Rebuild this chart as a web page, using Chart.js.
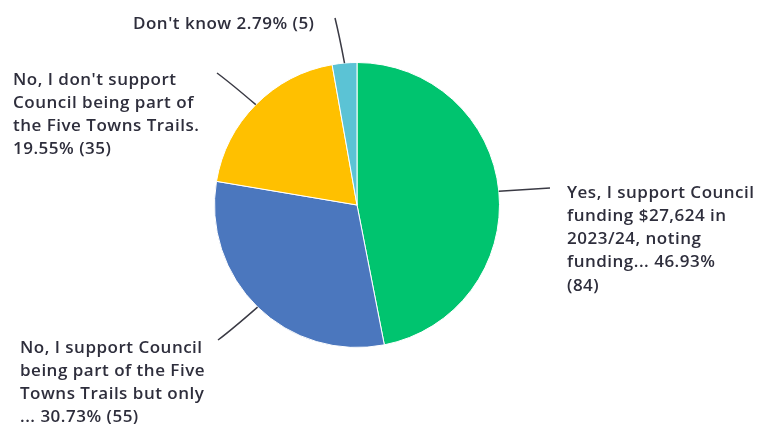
<!DOCTYPE html>
<html>
<head>
<meta charset="utf-8">
<script src="https://cdn.jsdelivr.net/npm/chart.js@4"></script>
<style>
  html, body { margin: 0; padding: 0; background: #fff; }
  #wrap { width: 757px; height: 424px; position: relative; }
</style>
</head>
<body>
<div id="wrap"><canvas id="pieChart"></canvas></div>
<script>
// survey answers, clockwise from 12 o'clock
var labels = [
  'Yes, I support Council funding $27,624 in 2023/24, noting funding...',
  'No, I support Council being part of the Five Towns Trails but only ...',
  'No, I don\'t support Council being part of the Five Towns Trails.',
  'Don\'t know'
];
var counts = [84, 55, 35, 5];
var percents = ['46.93%', '30.73%', '19.55%', '2.79%'];
var colours = ['#00C46F', '#4B77BE', '#FFC000', '#5BC3D5'];

// how each callout is wrapped on the page
var calloutLines = [
  ['Yes, I support Council', 'funding $27,624 in', '2023/24, noting', 'funding... 46.93%', '(84)'],
  ['No, I support Council', 'being part of the Five', 'Towns Trails but only', '... 30.73% (55)'],
  ['No, I don\'t support', 'Council being part of', 'the Five Towns Trails.', '19.55% (35)'],
  ['Don\'t know 2.79% (5)']
];
// leader end point, text left x, first line y, bend amount
var calloutPos = [
  { ex: 550, ey: 188, tx: 567, ty: 193, bend: 0 },
  { ex: 218, ey: 340, tx: 20, ty: 348, bend: 8 },
  { ex: 217, ey: 73, tx: 13, ty: 80, bend: 8 },
  { ex: 335, ey: 18, tx: 133, ty: 24, bend: 5 }
];

var callouts = {
  id: 'callouts',
  afterDatasetsDraw: function(chart) {
    var ctx = chart.ctx;
    var arcs = chart.getDatasetMeta(0).data;
    ctx.save();
    arcs.forEach(function(arc, i) {
      var p = calloutPos[i];
      var mid = (arc.startAngle + arc.endAngle) / 2;
      var sx = arc.x + Math.cos(mid) * arc.outerRadius;
      var sy = arc.y + Math.sin(mid) * arc.outerRadius;
      var cx = (sx + p.ex) / 2 + Math.cos(mid) * p.bend;
      var cy = (sy + p.ey) / 2 + Math.sin(mid) * p.bend;
      ctx.beginPath();
      ctx.moveTo(sx, sy);
      ctx.quadraticCurveTo(cx, cy, p.ex, p.ey);
      ctx.strokeStyle = '#3a3a44';
      ctx.lineWidth = 1.5;
      ctx.stroke();

      ctx.fillStyle = '#2e2e3c';
      ctx.font = '600 17px "Open Sans"';
      ctx.letterSpacing = '0.5px';
      ctx.textAlign = 'left';
      ctx.textBaseline = 'middle';
      calloutLines[i].forEach(function(line, k) {
        ctx.fillText(line, p.tx, p.ty + k * 23.2);
      });
    });
    ctx.restore();
  }
};

var ctxPie = document.getElementById('pieChart').getContext('2d');
var myChart = new Chart(ctxPie, {
  type: 'pie',
  data: {
    labels: labels,
    datasets: [{
      data: counts,
      backgroundColor: colours,
      borderColor: '#ffffff',
      borderWidth: 1
    }]
  },
  options: {
    responsive: true,
    maintainAspectRatio: false,
    animation: false,
    layout: {
      padding: { top: 62, bottom: 76, left: 214, right: 257 }
    },
    plugins: {
      legend: { display: false },
      tooltip: { enabled: false }
    }
  },
  plugins: [callouts]
});
</script>
</body>
</html>
